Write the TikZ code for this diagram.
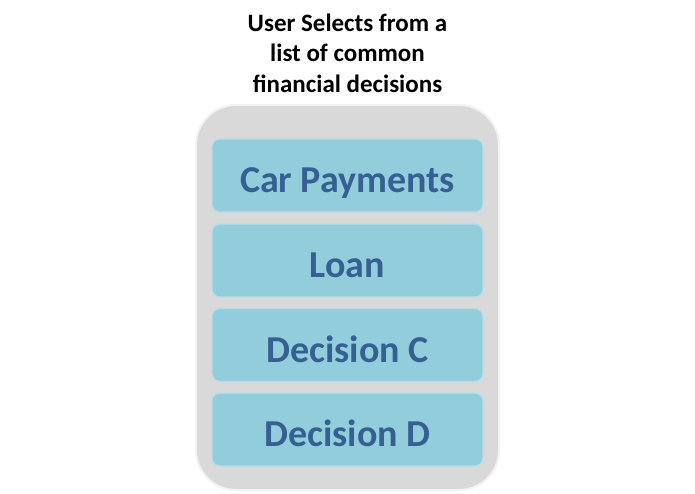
\documentclass[tikz,border=0pt]{standalone}
\usepackage{fontspec}
\setmainfont{Carlito}
\definecolor{outerfill}{HTML}{D9D9D9}
\definecolor{outeredge}{HTML}{F2F2F2}
\definecolor{itemfill}{HTML}{92CDDC}
\definecolor{itemedge}{HTML}{B7DEE8}
\definecolor{itemtext}{HTML}{366092}
\tikzset{
  itembox/.style={draw=itemedge, line width=1.2pt, fill=itemfill, rounded corners=8pt,
    minimum width=271pt, minimum height=73pt, inner sep=0pt, text height=34pt, text depth=0pt,
    font=\fontsize{38}{42}\selectfont\bfseries, text=itemtext},
  titletext/.style={font=\fontsize{25}{30.5}\selectfont\bfseries, align=center, text=black}
}
\begin{document}
\begin{tikzpicture}[x=1pt,y=-1pt]
\useasboundingbox (0,0) rectangle (695,494);
\fill[white] (0,0) rectangle (695,494);
\node[titletext] (title) at (347.5,53) {User Selects from a\\list of common\\financial decisions};
\draw[draw=outeredge, line width=2pt, fill=outerfill, rounded corners=40pt] (196,105) rectangle (499,490);
\node[itembox] (a) at (347.5,175.5) {Car Payments};
\node[itembox] (b) at (347.5,260.5) {Loan};
\node[itembox] (c) at (347.5,345) {Decision C};
\node[itembox] (d) at (347.5,429.5) {Decision D};
\end{tikzpicture}
\end{document}
